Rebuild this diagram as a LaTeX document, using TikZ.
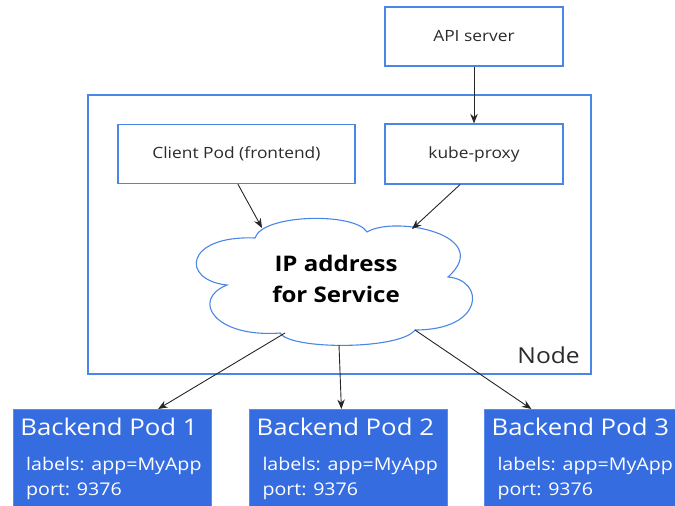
\documentclass[tikz,border=0pt]{standalone}
\usepackage{fontspec}
\setmainfont{Open Sans}[FakeStretch=1.12]
\usetikzlibrary{arrows.meta,calc}

\definecolor{frame}{HTML}{4A86E8}
\definecolor{podfill}{HTML}{356CE0}
\definecolor{podedge}{HTML}{5A8CEC}
\definecolor{ink}{HTML}{2B2B2B}

\begin{document}
\begin{tikzpicture}[x=1pt,y=-1pt,
  box/.style={draw=frame, line width=1.25pt, fill=white, inner sep=0pt,
              text=ink, font=\fontsize{15.5}{18}\selectfont},
  conn/.style={-{Stealth[length=9.5pt,width=7.5pt]}, line width=0.9pt, black!85},
  pod/.style={fill=podfill, draw=podedge, line width=0.8pt, inner sep=0pt,
              minimum width=198pt, minimum height=110pt, anchor=north west},
  podtitle/.style={text=white, anchor=base west, inner sep=0pt,
              font=\fontsize{23}{26}\selectfont},
  podinfo/.style={text=white, anchor=base west, inner sep=0pt,
              font=\fontsize{17.5}{20}\selectfont}]
\useasboundingbox (0,0) rectangle (675,506);
\clip (0,0) rectangle (675,506);

% node boundary
\node[draw=frame, line width=1.25pt, minimum width=503pt, minimum height=279pt,
      inner sep=0pt] (nodebox) at (339.5,234.5) {};
\node[anchor=base east, inner sep=0pt, text=ink,
      font=\fontsize{22}{26}\selectfont] (nodelabel) at (580,363) {Node};

% components
\node[box, minimum width=178pt, minimum height=59pt] (api) at (474,36.5) {API server};
\node[box, minimum width=237pt, minimum height=59pt] (client) at (236.4,154) {Client Pod (frontend)};
\node[box, minimum width=178pt, minimum height=60pt] (kube) at (474,154) {kube-proxy};

% service cloud
\draw[frame, line width=1.1pt, fill=white]
  (255,238) .. controls (262,214) and (355,212) .. (367,232)
  .. controls (395,215) and (495,235) .. (448,277)
  .. controls (485,280) and (485,330) .. (415,330)
  .. controls (400,350) and (290,350) .. (280,333)
  .. controls (215,338) and (190,300) .. (227,285)
  .. controls (180,280) and (185,235) .. (255,238) -- cycle;
\node[align=center, inner sep=0pt, font=\bfseries\fontsize{21.5}{31}\selectfont]
  (svc) at (336,279) {IP address\\for Service};
\coordinate (cin1) at (262,228);
\coordinate (cin2) at (412,229);
\coordinate (cout1) at (285,333);
\coordinate (cout2) at (339,345);
\coordinate (cout3) at (415,330);

% backend pods
\foreach \i/\x in {1/12.7, 2/249, 3/484} {
  \node[pod] (pod\i) at (\x,409) {};
  \node[podtitle] (pod\i title) at ([shift={(7.5,26.7)}]pod\i.north west) {Backend Pod \i};
  \node[podinfo] (pod\i labels) at ([shift={(13.3,61.7)}]pod\i.north west) {labels: app=MyApp};
  \node[podinfo] (pod\i port) at ([shift={(13.3,86)}]pod\i.north west) {port: 9376};
}

% connectors
\draw[conn] (api.south) -- (kube.north);
\draw[conn] ([xshift=1.5pt]client.south) -- (cin1);
\draw[conn] ([xshift=-14pt]kube.south) -- (cin2);
\draw[conn] (cout1) -- ([xshift=46pt]pod1.north);
\draw[conn] (cout2) -- ([xshift=-7pt]pod2.north);
\draw[conn] (cout3) -- ([xshift=-52pt]pod3.north);
\end{tikzpicture}
\end{document}
